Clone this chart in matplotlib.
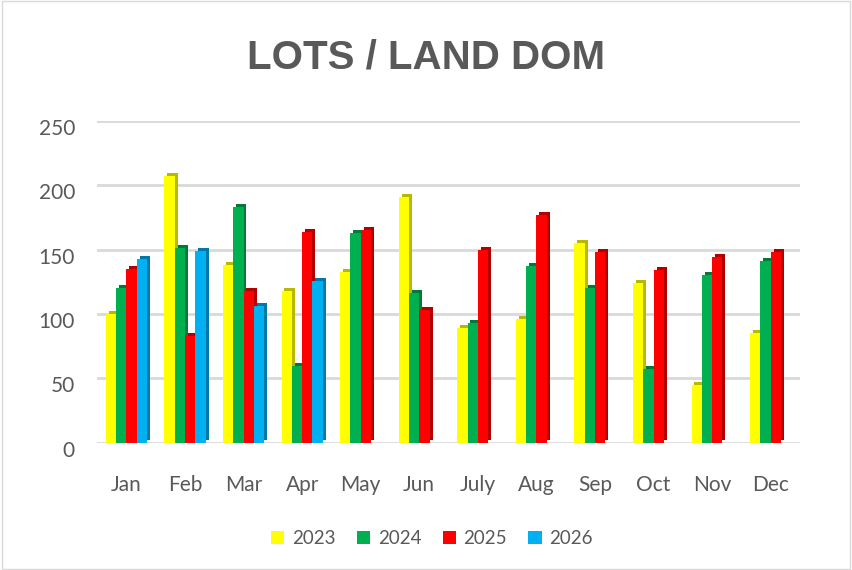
import numpy as np
import matplotlib
matplotlib.use('Agg')
import matplotlib.pyplot as plt
import matplotlib.transforms as mtransforms
from matplotlib.patches import Rectangle

months = ['Jan', 'Feb', 'Mar', 'Apr', 'May', 'Jun', 'July', 'Aug', 'Sep', 'Oct', 'Nov', 'Dec']
years = ['2023', '2024', '2025', '2026']
dom_2023 = [100, 207, 138, 118, 133, 191, 89, 96, 155, 124, 45, 85]
dom_2024 = [120, 151, 183, 60, 163, 116, 93, 137, 120, 57, 130, 141]
dom_2025 = [135, 83, 118, 164, 165, 103, 150, 177, 148, 134, 144, 148]
dom_2026 = [143, 149, 106, 126] + [np.nan] * 8

front = ['#FFFF00', '#00B050', '#FF0000', '#00B0F0']
side = ['#B8B800', '#007A38', '#B00000', '#0079A8']

fig = plt.figure(figsize=(8.52, 5.70), dpi=100)
ax = fig.add_axes([0.114, 0.223, 0.825, 0.565])

x = np.arange(len(months))
w = 0.176
dx, dy = 0.05, 2.3
series = [dom_2023, dom_2024, dom_2025, dom_2026]
for i, vals in enumerate(series):
    pos = x + (i - 1.5) * w
    vals = np.array(vals, dtype=float)
    # fake 3D: darker block shifted up-right behind the front face
    ax.bar(pos + dx, vals, w, bottom=dy, color=side[i], zorder=2, linewidth=0)
    ax.bar(pos, vals, w, color=front[i], zorder=3, linewidth=0, label=years[i])

ax.set_xlim(-0.5, 11.5)
ax.set_ylim(0, 250)
ax.set_yticks(range(0, 251, 50))
ax.set_xticks(x)
ax.set_xticklabels(months)
ax.yaxis.grid(True, color='#d9d9d9', linewidth=2)
ax.set_axisbelow(True)
for s in ax.spines.values():
    s.set_visible(False)
ax.tick_params(length=0, labelsize=15, labelcolor='#595959')
ax.tick_params(axis='y', pad=16)
ax.tick_params(axis='x', pad=23)
shift = mtransforms.ScaledTranslation(0, -6 / 100, fig.dpi_scale_trans)
for lbl in ax.get_yticklabels():
    lbl.set_transform(lbl.get_transform() + shift)
for lbl in ax.get_xticklabels() + ax.get_yticklabels():
    lbl.set_fontfamily('Lato')

fig.text(0.5, 0.899, 'LOTS / LAND DOM', ha='center', va='center',
         fontsize=29, fontweight='bold', color='#595959', family='Liberation Sans')

handles, labels = ax.get_legend_handles_labels()
fig.legend(handles, labels, loc='center', bbox_to_anchor=(0.507, 0.055), ncol=4,
           frameon=False, handlelength=0.7, handleheight=0.7, handletextpad=0.4,
           columnspacing=1.15, prop={'family': 'Lato', 'size': 13.5}, labelcolor='#595959')

fig.patches.append(Rectangle((0.002, 0.002), 0.996, 0.996, transform=fig.transFigure,
                             fill=False, edgecolor='#d9d9d9', linewidth=1))

fig.savefig('out.png', dpi=100, facecolor='white')
